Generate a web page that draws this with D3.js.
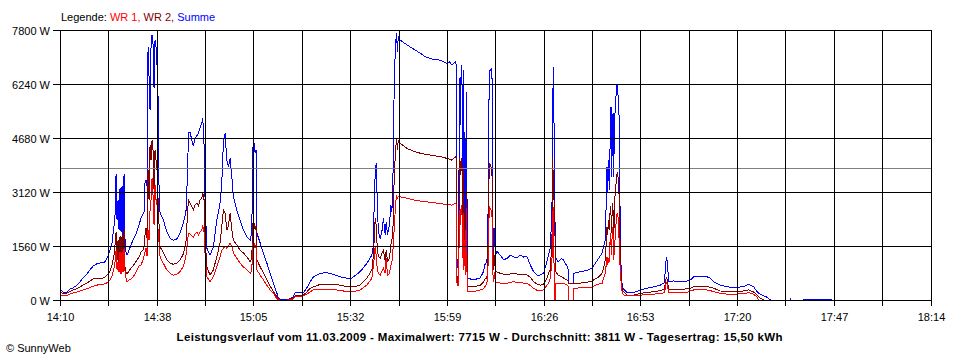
<!DOCTYPE html>
<html><head><meta charset="utf-8">
<script src="https://cdn.jsdelivr.net/npm/d3@7"></script>
<style>body{margin:0;background:#fff}svg{display:block}</style>
</head><body><svg id="chart" width="960" height="360"></svg>
<script>
// minutes after 14:10
const minutes = [
0,0.84,1.96,2.80,3.65,4.77,5.61,6.45,7.57,8.41,9.26,10.38,11.22,12.34,12.90,13.46,
14.02,14.58,15.14,15.43,15.71,15.99,16.27,16.55,16.83,17.11,17.39,17.67,17.95,18.23,18.51,18.79,19.35,19.91,20.47,21.03,21.60,22.16,22.72,23.28,23.56,23.84,24.12,24.40,
24.68,24.96,25.24,25.52,25.80,26.08,26.36,26.64,26.92,27.20,27.49,27.77,28.05,
28.97,29.92,30.85,31.78,32.73,33.66,34.58,35.06,35.34,35.81,35.98,36.46,36.94,37.39,37.86,38.34,38.79,39.26,39.74,40.02,40.19,40.39,40.58,
41.14,42.07,42.99,43.95,44.87,45.35,45.80,46.28,46.75,47.20,47.68,48.16,48.60,49.56,50.48,51.41,52.36,53.29,53.76,54.04,54.21,54.41,54.69,54.97,55.17,
56.09,57.02,57.97,58.90,59.82,60.78,61.22,61.70,63.58,64.51,65.43,65.91,68.24,69.19,70.12,
71.04,72.92,74.80,76.65,78.53,80.41,81.53,82.26,84.14,86.02,87.42,
87.87,88.06,88.34,88.63,88.82,88.99,89.27,89.75,90.22,90.67,91.15,91.43,91.80,92.35,92.75,93.03,93.31,93.48,93.76,94.04,94.32,94.60,94.80,
95.36,97.24,99.09,100.97,102.37,104.70,106.57,107.50,108.45,109.18,109.86,110.78,111.06,
111.26,111.54,111.71,111.99,112.18,112.46,112.66,112.83,113.03,113.22,113.39,113.67,113.87,114.06,
114.34,115.91,117.79,118.72,119.20,119.67,119.95,120.32,120.60,121.08,121.24,121.52,121.80,122.00,122.47,
123.40,124.33,125.28,126.21,127.13,128.09,129.01,129.94,130.89,131.82,132.74,133.70,134.62,135.55,136.50,136.95,137.43,
137.90,138.07,138.35,138.55,138.83,139.02,139.67,140.51,141.07,142.11,142.47,142.56,143.88,143.96,145.84,147.72,149.12,150.05,150.97,151.93,152.38,152.85,
153.33,153.50,153.78,153.97,154.25,154.45,154.62,154.81,155.01,155.18,155.46,155.74,156.02,156.30,156.50,156.78,157.06,157.34,157.62,158.18,
158.94,160.79,162.67,164.55,166.40,168.28,169.40,169.68,169.96,170.24,170.60,172.00,173.89,175.76,176.69,177.62,179.49,181.37,182.30,183.22,185.10,186.98,189.79,191.55,193.04,194.44,195.40,195.85,196.32,197.24,198.20,199.13,
202.00,204.84,204.87,204.90,206.00,208.18,216.43
];
// Summe (W)
const summe = [
310,230,230,320,350,430,520,640,750,870,980,1050,1070,1070,1160,1270,
1440,1650,2150,2460,3640,2310,2890,2020,3240,1960,3290,1730,3640,1730,1390,1300,1440,1590,1730,1850,1990,2170,2370,2480,2540,3410,3470,3290,
7310,6440,5490,7340,7660,7400,6120,7510,7310,6790,5840,3180,2510,
2310,1970,1780,1730,1760,1940,2220,2430,2600,3850,4820,4850,4620,4450,4680,4740,4820,4970,5110,5250,4910,4450,3180,
1500,1300,1540,2310,2800,3380,4540,4820,4040,3850,4100,3560,2980,2600,2310,2020,1830,1730,1940,4430,4330,4540,4250,4330,1940,
1650,1360,1070,780,490,200,60,20,10,40,100,210,210,350,530,
670,770,790,740,670,630,610,670,820,1060,1300,
1590,2840,3610,3950,3230,2550,1970,1780,1970,2360,1880,2260,1880,2170,2740,2550,3320,5060,6500,7370,7710,7170,7610,
7510,7370,7250,7130,7030,6950,6930,6880,6840,6880,6790,6880,6790,
1210,920,1300,6410,5060,6790,6700,3120,6640,2170,4850,1790,6020,3120,
630,580,640,820,1060,1090,2170,6600,6640,6690,2890,1200,2070,1300,1400,
1300,1160,1200,1300,1250,1210,1300,1240,1250,1010,820,720,720,770,1110,1300,1500,
2600,5690,6730,4040,1590,1210,1100,1200,1160,980,870,480,480,770,820,850,920,1060,1200,1350,1540,1730,
3850,3090,4040,3180,4820,5580,3560,4620,5390,3560,5200,5690,6210,6210,5690,5200,1540,770,380,290,
210,210,290,340,380,430,500,870,1250,1100,530,550,530,550,580,670,690,670,630,530,430,380,360,390,450,380,240,190,170,120,80,0,
null,0,50,0,null,20,20
];
// WR 2 (W)
const wr2 = [
230,190,200,250,290,330,380,430,490,550,610,620,620,640,690,750,
840,1010,1300,1590,1960,1160,1730,1010,1850,920,1850,870,2020,920,810,750,840,920,980,1070,1160,1240,1390,1440,1560,1880,2080,1790,
3760,2890,4480,4040,4620,4330,3180,4330,4040,3760,2890,2140,1540,
1360,1160,1070,1030,1070,1160,1330,1540,1730,2600,2890,2800,2690,2600,2740,2800,2720,2890,2950,3090,3000,2890,2020,
960,720,870,1250,1650,2140,2600,2510,2020,2140,2510,2020,1730,1590,1440,1360,1250,1110,1210,2220,2020,2220,2020,2140,1160,
960,780,580,400,240,90,40,0,0,30,60,120,140,230,340,
380,450,450,450,430,380,380,380,430,630,870,
1300,1730,2360,2170,1730,1400,1270,1200,1360,1440,1110,1440,1110,1200,1590,1730,1970,2890,3710,4280,4670,4330,4620,
4530,4380,4300,4240,4210,4170,4140,4120,4090,4070,4040,4140,4100,
720,490,870,4100,3610,4100,4040,1590,3900,1360,2740,1160,3180,1440,
380,380,430,520,610,630,1440,3950,3900,3760,1880,870,1300,820,810,
770,750,720,750,770,750,750,740,720,660,530,460,430,460,630,780,870,
1730,4100,3300,2600,1590,810,720,670,640,580,530,480,480,480,490,510,550,610,660,770,920,1160,
2120,1880,2310,2020,2700,2460,1940,2790,2600,1540,2890,3180,3610,3660,3470,2890,1160,580,290,220,
140,140,190,220,240,270,310,490,670,580,290,300,310,320,340,380,380,380,370,340,260,250,240,260,290,230,140,90,50,0,null,null,
null,null,null,null,null,null,null
];
// WR 1 (W)
const wr1 = [
140,120,130,170,200,230,260,290,330,360,400,430,450,460,480,520,
580,690,920,1100,1440,870,1100,810,1390,750,1390,810,1500,810,640,520,580,610,660,750,870,980,1010,1160,1270,1390,1500,1270,
2020,1730,2600,2890,3520,3030,2170,3320,2890,2740,2020,1650,1250,
1060,870,770,720,740,820,980,1160,1300,1730,1930,1910,1850,1820,1910,1960,1880,1960,2020,2140,2080,1960,1440,
670,530,670,960,1250,1440,1490,1560,1490,1560,1640,1540,1360,1210,1060,960,870,770,840,1650,1500,1650,1500,1590,870,
720,580,430,290,190,40,10,0,0,10,30,90,120,170,240,
290,310,310,300,280,240,240,240,290,430,630,
1010,1210,1540,1300,1010,870,770,720,840,920,770,1200,720,770,1010,1100,1400,1730,2170,2740,3030,2940,2980,
2980,2940,2890,2860,2840,2810,2790,2770,2760,2750,2740,2790,2770,
490,400,490,2600,2170,2740,2660,1210,2510,870,1730,720,2660,870,
240,240,290,320,400,480,870,2700,2650,2540,920,530,810,510,500,
490,480,480,510,530,510,500,490,480,420,340,280,270,290,430,490,640,
1100,2460,2690,0,0,480,480,480,480,430,400,0,0,340,350,350,370,430,460,480,640,770,
1250,1010,1160,1100,1930,1590,1300,2120,1880,1160,1540,2020,2460,2500,2310,1540,770,430,190,130,
120,120,140,160,170,190,210,350,530,430,210,220,220,220,260,290,290,290,270,240,190,170,170,190,210,170,80,0,null,null,null,null,
null,null,null,null,null,null,null
];
const yTicks = [0, 1560, 3120, 4680, 6240, 7800];
const xTickLabels = ["14:10","14:38","15:05","15:32","15:59","16:26","16:53","17:20","17:47","18:14"];
const average = 3811;
const seriesNames = ["WR 1", "WR 2", "Summe"];
const seriesColors = ["#ff0000", "#800000", "#0000ff"];
const titleText = "Leistungsverlauf vom 11.03.2009 - Maximalwert: 7715 W - Durchschnitt: 3811 W - Tagesertrag: 15,50 kWh";

const svg = d3.select("#chart");
const FONT = "'Liberation Sans', Arial, sans-serif";
const x = d3.scaleLinear().domain([0, 244]).range([60, 930.5]);
const y = d3.scaleLinear().domain([0, 7800]).range([300, 30]);
const snap = v => Math.round(v) + 0.5;
const nGrid = 18;
const xGrid = d3.range(nGrid + 1).map(i => i * 244 / nGrid);

// series
const series = [
  {vals: summe, color: seriesColors[2]},
  {vals: wr2, color: seriesColors[1]},
  {vals: wr1, color: seriesColors[0]}
];
const line = d3.line()
  .defined(d => d.v != null)
  .x(d => x(d.t))
  .y(d => y(d.v));
series.forEach(s => {
  const pts = minutes.map((t, i) => ({t, v: s.vals[i] === undefined ? null : s.vals[i]}));
  svg.append("path").datum(pts)
    .attr("d", line)
    .attr("fill", "none")
    .attr("stroke", s.color)
    .attr("stroke-width", 1)
    .attr("shape-rendering", "crispEdges");
});

// grid
const g = svg.append("g").attr("shape-rendering", "crispEdges");
g.append("line")
  .attr("x1", 60).attr("x2", 931)
  .attr("y1", snap(y(average))).attr("y2", snap(y(average)))
  .attr("stroke", "#808080");
g.selectAll("line.h").data(yTicks).enter().append("line")
  .attr("x1", 53).attr("x2", 931)
  .attr("y1", d => snap(y(d))).attr("y2", d => snap(y(d)))
  .attr("stroke", "#000");
g.selectAll("line.v").data(xGrid).enter().append("line")
  .attr("x1", d => snap(x(d))).attr("x2", d => snap(x(d)))
  .attr("y1", 30).attr("y2", 306)
  .attr("stroke", "#000");

// y labels
svg.selectAll("text.yl").data(yTicks).enter().append("text")
  .attr("x", 50).attr("y", d => snap(y(d)) + 4)
  .attr("text-anchor", "end")
  .attr("font-family", FONT).attr("font-size", "11px")
  .text(d => d + " W");

// x labels
svg.selectAll("text.xl").data(xTickLabels).enter().append("text")
  .attr("x", (d, i) => snap(x(xGrid[i * 2])))
  .attr("y", 321)
  .attr("text-anchor", "middle")
  .attr("font-family", FONT).attr("font-size", "11px")
  .text(d => d);

// legend
const leg = svg.append("text").attr("x", 61).attr("y", 20.5)
  .attr("font-family", FONT).attr("font-size", "11px");
leg.append("tspan").attr("fill", "#000").text("Legende: ");
leg.append("tspan").attr("fill", seriesColors[0]).text(seriesNames[0] + ", ");
leg.append("tspan").attr("fill", seriesColors[1]).text(seriesNames[1] + ", ");
leg.append("tspan").attr("fill", seriesColors[2]).text(seriesNames[2]);

// title
svg.append("text").attr("x", 176.5).attr("y", 341)
  .attr("font-family", FONT).attr("font-size", "11.5px").attr("font-weight", "bold")
  .attr("textLength", 606).attr("lengthAdjust", "spacing")
  .text(titleText);

// copyright
svg.append("text").attr("x", 6).attr("y", 352)
  .attr("font-family", FONT).attr("font-size", "11px")
  .text("\u00A9 SunnyWeb");
</script>
</body></html>
